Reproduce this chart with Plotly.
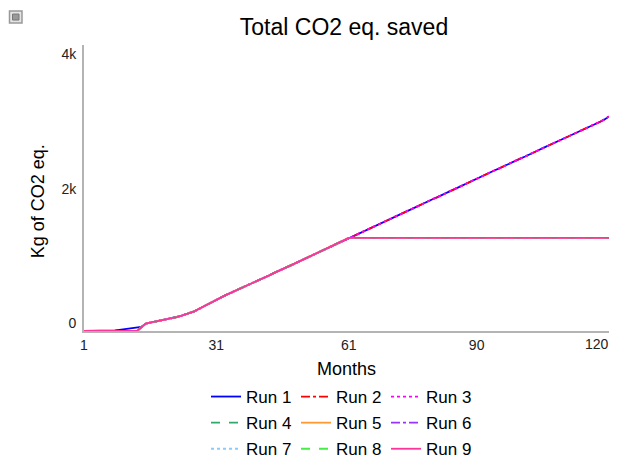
import plotly.graph_objects as go

months = list(range(1, 121))

# Early months (1-14)
start_run1 = [0, 0, 0, 0, 0, 0, 0, 8, 17, 25, 34, 42, 50, 60]
start_other = [0, 0, 0, 0, 0, 0, 0, 0, 0, 0, 0, 0, 0, 55]

# Shared part, months 15-61
mid_values = [109, 124, 137, 149, 162, 177, 191, 208, 226, 248,
              270, 293, 327, 362, 397, 435, 468, 501, 531, 561,
              590, 617, 647, 680, 710, 740, 766, 799, 829, 862,
              888, 918, 951, 981, 1012, 1042, 1072, 1104, 1132, 1163,
              1196, 1223, 1256, 1285, 1315, 1348, 1386]

# Months 62-120 for runs that keep growing
late_growing = [1414, 1449, 1477, 1504, 1536, 1568, 1594, 1628, 1660, 1687,
                1717, 1752, 1779, 1808, 1841, 1872, 1901, 1934, 1963, 1990,
                2025, 2055, 2084, 2114, 2146, 2176, 2205, 2238, 2268, 2298,
                2327, 2360, 2390, 2418, 2451, 2481, 2510, 2542, 2572, 2599,
                2634, 2663, 2693, 2724, 2752, 2785, 2814, 2842, 2875, 2905,
                2934, 2966, 2996, 3023, 3058, 3087, 3117, 3152, 3195]

# Months 62-120 for runs that stop
late_flat = [1386] * 59

run_names = ["Run 1", "Run 2", "Run 3", "Run 4", "Run 5", "Run 6", "Run 7", "Run 8", "Run 9"]
run_colors = ["#0000ff", "#ff0000", "#ff00ff", "#2eaa6a", "#ff9933", "#9933ff", "#88ccff", "#44ee44", "#ff3399"]
run_dashes = ["solid", "dashdot", "dot", "dash", "solid", "dashdot", "dot", "dash", "solid"]
run_growing = [True, True, True, False, False, False, False, False, False]

x_ticks = [1, 31, 61, 90, 120]
x_ticklabels = ["1", "31", "61", "90", "120"]
y_ticks = [0, 2000, 4000]
y_ticklabels = ["0", "2k", "4k"]

# page body has an 8px margin, so the figure is laid out in its own coordinates
W, H = 611, 453
L, R, T, B = 76, 10, 37, 129.5
pw = W - L - R
ph = H - T - B

fig = go.Figure()
legend_ids = ["legend", "legend2", "legend3"]
for i, name in enumerate(run_names):
    start = start_run1 if i == 0 else start_other
    late = late_growing if run_growing[i] else late_flat
    y = start + mid_values + late
    fig.add_trace(go.Scatter(
        x=months, y=y, mode="lines", name=name, legendgroup=name,
        line=dict(color=run_colors[i], dash=run_dashes[i], width=1.8),
        legend=legend_ids[i % 3],
    ))

FONT = "Liberation Sans, Arial, sans-serif"
legend_common = dict(
    orientation="v", xref="container", yref="container", xanchor="left", yanchor="top",
    font=dict(family=FONT, size=17, color="#000"), bgcolor="rgba(0,0,0,0)",
    borderwidth=0, itemwidth=30, tracegroupgap=1,
)

def fx(px):
    return (px - L) / pw
def fy(py):
    return (H - B - py) / ph

leg_top = 1 - 371 / H
fig.update_layout(
    width=W, height=H,
    margin=dict(l=L, r=R, t=T, b=B, autoexpand=False),
    paper_bgcolor="white", plot_bgcolor="white",
    font=dict(family=FONT, color="#000"),
    title=dict(text="Total CO2 eq. saved", x=336 / W, xanchor="center",
               y=1 - 19 / H, yanchor="middle",
               font=dict(family=FONT, size=23, color="#000")),
    showlegend=True,
    legend=dict(**legend_common, x=198 / W, y=leg_top),
    legend2=dict(**legend_common, x=288 / W, y=leg_top),
    legend3=dict(**legend_common, x=378 / W, y=leg_top),
    xaxis=dict(
        range=[1, 120], tickvals=x_ticks, ticktext=x_ticklabels[:-1] + [""],
        showgrid=False, zeroline=False, showline=True, linecolor="#b4b4b4", linewidth=2,
        ticks="", tickfont=dict(family=FONT, size=14, color="#222"),
        ticklabeloverflow="allow",
        title=dict(text="Months", font=dict(family=FONT, size=18, color="#000"), standoff=11),
        automargin=False,
    ),
    yaxis=dict(
        range=[0, 4260], tickvals=y_ticks, ticktext=y_ticklabels,
        showgrid=False, zeroline=False, showline=True, linecolor="#b4b4b4", linewidth=2,
        ticks="", tickfont=dict(family=FONT, size=14, color="#222"), ticklabelshift=-8,
        ticklabelstandoff=3,
        automargin=False,
    ),
)

# last x tick label, kept inside the visible page
fig.add_annotation(text=x_ticklabels[-1], xref="x", yref="paper",
                   x=x_ticks[-1], y=0, xanchor="right", yanchor="middle",
                   xshift=2, yshift=-13, showarrow=False,
                   font=dict(family=FONT, size=14, color="#222"))

# y-axis title
fig.add_annotation(text="Kg of CO2 eq.", xref="paper", yref="paper",
                   x=fx(30), y=fy(193.5), xanchor="center", yanchor="middle",
                   textangle=-90, showarrow=False,
                   font=dict(family=FONT, size=18, color="#000"))

# small export icon at top-left
fig.add_shape(type="rect", xref="paper", yref="paper",
              x0=fx(1.5), x1=fx(14), y0=fy(15), y1=fy(3),
              line=dict(color="#999", width=1.5), fillcolor="#e4e4e4")
fig.add_shape(type="rect", xref="paper", yref="paper",
              x0=fx(4.5), x1=fx(11), y0=fy(12), y1=fy(6),
              line=dict(color="#777", width=1), fillcolor="#999")

fig.write_html("out.html")
